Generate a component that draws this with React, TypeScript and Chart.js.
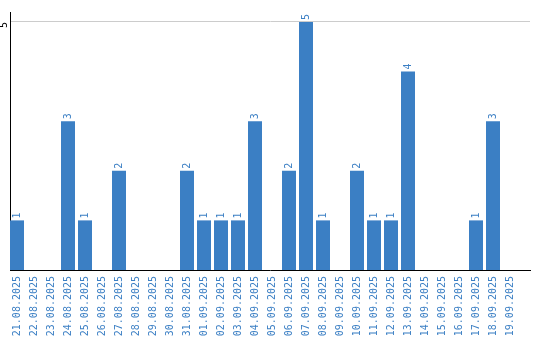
import React, { useEffect, useRef } from "react";
import { Chart, registerables } from "chart.js";

Chart.register(...registerables);

const dates = [
  "21.08.2025", "22.08.2025", "23.08.2025", "24.08.2025", "25.08.2025",
  "26.08.2025", "27.08.2025", "28.08.2025", "29.08.2025", "30.08.2025",
  "31.08.2025", "01.09.2025", "02.09.2025", "03.09.2025", "04.09.2025",
  "05.09.2025", "06.09.2025", "07.09.2025", "08.09.2025", "09.09.2025",
  "10.09.2025", "11.09.2025", "12.09.2025", "13.09.2025", "14.09.2025",
  "15.09.2025", "16.09.2025", "17.09.2025", "18.09.2025", "19.09.2025",
];
const counts = [1, 0, 0, 3, 1, 0, 2, 0, 0, 0, 2, 1, 1, 1, 3, 0, 2, 5, 1, 0, 2, 1, 1, 4, 0, 0, 0, 1, 3, 0];
const yTicks = [5];

const BLUE = "#3b7fc4";
const FONT = { family: "'DejaVu Sans Mono', monospace", size: 10 };

const valueLabels = {
  id: "valueLabels",
  afterDatasetsDraw(chart: any) {
    const ctx = chart.ctx;
    const meta = chart.getDatasetMeta(0);
    ctx.save();
    ctx.fillStyle = BLUE;
    ctx.font = `${FONT.size}px ${FONT.family}`;
    ctx.textAlign = "left";
    ctx.textBaseline = "middle";
    meta.data.forEach((bar: any, i: number) => {
      const v = counts[i];
      if (!v) return;
      ctx.save();
      ctx.translate(bar.x, bar.y - 2);
      ctx.rotate(-Math.PI / 2);
      ctx.fillText(String(v), 0, 0);
      ctx.restore();
    });
    ctx.restore();
  },
};

export default function App() {
  const ref = useRef<HTMLCanvasElement>(null);
  useEffect(() => {
    document.body.style.margin = "0";
    const chart = new Chart(ref.current!, {
      type: "bar",
      data: {
        datasets: [
          {
            data: counts.map((v, i) => ({ x: i, y: v })),
            backgroundColor: BLUE,
            borderWidth: 0,
            categoryPercentage: 1,
            barPercentage: 14 / 17,
          },
        ],
      },
      options: {
        animation: false,
        responsive: true,
        maintainAspectRatio: false,
        layout: { padding: { top: 10, right: 10, left: 0, bottom: 0 } },
        plugins: { legend: { display: false }, tooltip: { enabled: false } },
        scales: {
          x: {
            type: "linear",
            offset: false,
            bounds: "data",
            min: -7 / 17,
            max: (530 - 17) / 17,
            grid: { display: false, drawTicks: false, offset: false },
            border: { display: true, color: "#000", width: 1 },
            afterBuildTicks: (scale: any) => {
              scale.ticks = dates.map((_, i) => ({ value: i }));
            },
            afterFit: (scale: any) => {
              scale.height = 70;
            },
            ticks: {
              autoSkip: false,
              minRotation: 90,
              maxRotation: 90,
              padding: 6,
              color: BLUE,
              font: FONT,
              callback: (v: any) => dates[v] ?? "",
            },
          },
          y: {
            min: 0,
            max: 5.2,
            afterBuildTicks: (scale: any) => {
              scale.ticks = yTicks.map((v) => ({ value: v }));
            },
            afterFit: (scale: any) => {
              scale.width = 10;
            },
            grid: { color: "#cccccc", drawTicks: false },
            border: { display: true, color: "#000", width: 1 },
            ticks: {
              minRotation: 90,
              maxRotation: 90,
              padding: 6,
              color: "#000",
              font: FONT,
            },
          },
        },
      },
      plugins: [valueLabels],
    });
    return () => chart.destroy();
  }, []);
  return (
    <div style={{ width: 540, height: 340, position: "relative" }}>
      <canvas ref={ref} />
    </div>
  );
}
